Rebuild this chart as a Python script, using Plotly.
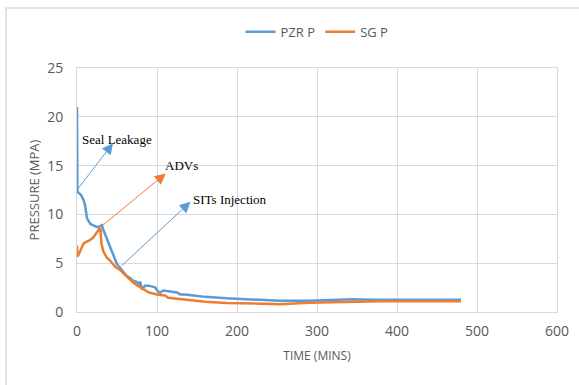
import plotly.graph_objects as go

# ---- data ----
pzr_t = [0, 0.5, 2, 5, 8, 10, 12.5, 15, 17, 20, 25, 29, 31, 33, 36, 40, 42, 46, 50, 54,
         58, 62, 66, 70, 74, 77, 79, 81, 83, 85, 90, 95, 98, 101, 104, 108, 115, 125, 129,
         135, 146, 160, 187, 220, 254, 290, 320, 345, 370, 400, 440, 480]
pzr_p = [21.0, 12.4, 12.2, 12.0, 11.5, 11.0, 9.6, 9.3, 9.0, 8.9, 8.7, 8.8, 8.9, 8.4, 7.8,
         7.0, 6.5, 5.7, 4.9, 4.5, 4.1, 3.7, 3.5, 3.2, 3.1, 2.9, 3.1, 2.4, 2.5, 2.7, 2.7,
         2.6, 2.5, 2.1, 2.0, 2.2, 2.1, 2.0, 1.8, 1.8, 1.7, 1.55, 1.4, 1.3, 1.15, 1.15,
         1.25, 1.3, 1.25, 1.25, 1.25, 1.25]

sg_t = [0, 0.5, 1.5, 3, 5, 8, 12, 15, 20, 24, 27, 28.5, 29.5, 30.5, 33, 37, 42, 48, 54,
        60, 66, 72, 78, 84, 90, 100, 110, 114, 120, 130, 140, 160, 187, 220, 254, 290,
        330, 380, 430, 480]
sg_p = [6.8, 5.7, 5.8, 6.1, 6.6, 7.0, 7.2, 7.3, 7.6, 8.0, 8.4, 8.6, 8.4, 7.0, 6.2, 5.6,
        5.2, 4.6, 4.3, 3.8, 3.3, 2.9, 2.6, 2.3, 2.0, 1.8, 1.7, 1.45, 1.4, 1.3, 1.2, 1.05,
        0.93, 0.85, 0.8, 0.95, 1.05, 1.1, 1.1, 1.1]

x_ticks = [0, 100, 200, 300, 400, 500, 600]
y_ticks = [0, 5, 10, 15, 20, 25]

# annotations: (label, tail_t, tail_p, head_t, head_p, text_t, text_p, color)
notes = [
    ("Seal Leakage", 0, 12.5, 45, 17.3, 50.5, 17.7, "#5B9BD5"),
    ("ADVs", 28, 8.6, 111, 14.2, 130, 15.0, "#ED7D31"),
    ("SITs Injection", 54, 4.6, 142, 11.3, 191, 11.5, "#5B9BD5"),
]

BLUE = "#5B9BD5"
ORANGE = "#ED7D31"
GRID = "#D9D9D9"
TXT = "#595959"

fig = go.Figure()
fig.add_trace(go.Scatter(x=pzr_t, y=pzr_p, mode="lines", name="PZR P",
                         line=dict(color=BLUE, width=2.5)))
fig.add_trace(go.Scatter(x=sg_t, y=sg_p, mode="lines", name="SG P",
                         line=dict(color=ORANGE, width=2.5)))

annots = []
for label, t0, p0, t1, p1, tt, tp, col in notes:
    annots.append(dict(x=t1, y=p1, ax=t0, ay=p0, xref="x", yref="y", axref="x", ayref="y",
                       text="", showarrow=True, arrowhead=2, arrowsize=2.2, arrowwidth=1,
                       arrowcolor=col))
    annots.append(dict(x=tt, y=tp, xref="x", yref="y", text=label, showarrow=False,
                       font=dict(family="Liberation Serif", size=13, color="black")))

fig.update_layout(
    width=579, height=385,
    margin=dict(l=77, r=22, t=68, b=73, autoexpand=False),
    paper_bgcolor="white", plot_bgcolor="white",
    font=dict(family="Open Sans", color=TXT, size=13),
    legend=dict(orientation="h", x=0.5, xanchor="center", y=1.148, yanchor="middle",
                font=dict(size=13, color=TXT), itemwidth=30),
    annotations=annots,
    shapes=[dict(type="rect", xref="paper", yref="paper", x0=-0.148, x1=1.2, y0=-0.4,
                 y1=1.246, line=dict(color=GRID, width=1.5), layer="above")],
)
fig.update_xaxes(range=[0, 600], tickvals=x_ticks, showgrid=True, gridcolor=GRID,
                 gridwidth=1, zeroline=False, showline=True, linecolor=GRID, mirror=True,
                 ticks="", tickfont=dict(size=14, color=TXT), ticklabelstandoff=6,
                 automargin=False,
                 title=dict(text="TIME (MINS)", font=dict(size=12, color=TXT), standoff=12))
fig.update_yaxes(range=[0, 25], tickvals=y_ticks, showgrid=True, gridcolor=GRID,
                 gridwidth=1, zeroline=False, showline=True, linecolor=GRID, mirror=True,
                 ticks="", tickfont=dict(size=14, color=TXT), ticklabelstandoff=10,
                 automargin=False,
                 title=dict(text="PRESSURE (MPA)", font=dict(size=13, color=TXT), standoff=4))

fig.write_html("out.html", config={"displayModeBar": False},
               post_script="document.body.style.margin='0px';")
